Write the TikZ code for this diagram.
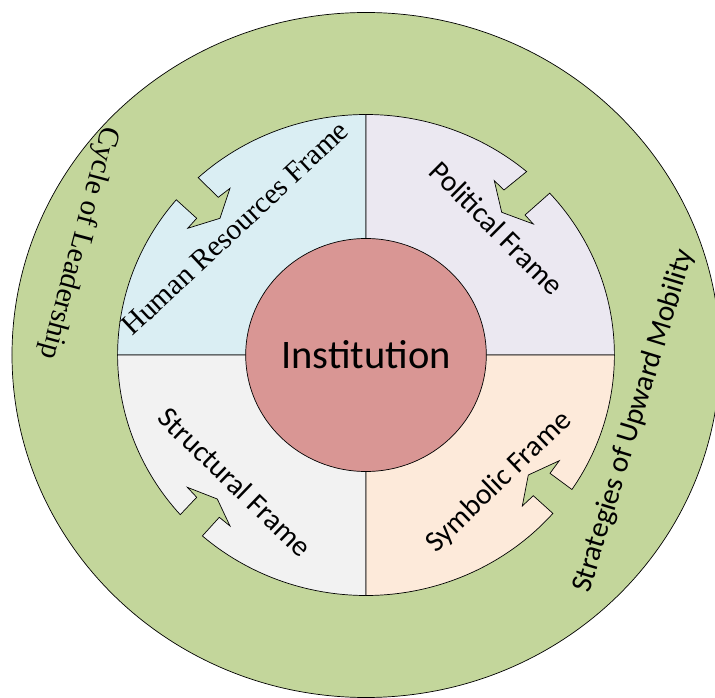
\documentclass[tikz,border=0pt]{standalone}
\usepackage{fontspec}
\setmainfont{Liberation Serif}
\newfontfamily\calibfont{Carlito}
\definecolor{ringgreen}{HTML}{C3D69B}
\definecolor{hrblue}{HTML}{DAEEF3}
\definecolor{pollav}{HTML}{EBE8F1}
\definecolor{strgray}{HTML}{F2F2F2}
\definecolor{sympeach}{HTML}{FDEADA}
\definecolor{instred}{HTML}{D99694}
\begin{document}
\begin{tikzpicture}[x=1pt,y=1pt, line width=0.7pt,
  quad/.style={draw=black, line join=miter},
  lbl/.style={font=\calibfont\fontsize{29.5}{29.5}\selectfont, inner sep=0pt},
  slbl/.style={font=\fontsize{29.5}{29.5}\selectfont, inner sep=0pt},
  rg/.style={x radius=248.4, y radius=240.5}]
\useasboundingbox (-366,-343) rectangle (349,355);
\fill[white] (-366,-343) rectangle (349,355);
\draw[fill=ringgreen] (0,0) ellipse [x radius=354, y radius=342.5];
% Human Resources quadrant
\draw[quad, fill=hrblue] (0,0) -- (90:248.4 and 240.5) arc[start angle=90, end angle=132.5, rg]
  -- (-147.7,157.7) -- (-136,166.7) -- (-146,136.7) -- (-178.3,126.7) -- (-169.3,136.7)
  -- (139.8:248.4 and 240.5) arc[start angle=139.8, end angle=180, rg] -- cycle;
% Political quadrant
\draw[quad, fill=pollav] (0,0) -- (0:248.4 and 240.5) arc[start angle=0, end angle=42.3, rg]
  -- (159,140) -- (167.3,131) -- (135.7,142.7) -- (128.3,174.3) -- (138,165)
  -- (49.7:248.4 and 240.5) arc[start angle=49.7, end angle=90, rg] -- cycle;
% Structural quadrant
\draw[quad, fill=strgray] (0,0) -- (180:248.4 and 240.5) arc[start angle=180, end angle=221.6, rg]
  -- (-169.3,-142.3) -- (-178.7,-132.3) -- (-148.7,-144) -- (-136,-171) -- (-146.7,-162.3)
  -- (228.8:248.4 and 240.5) arc[start angle=228.8, end angle=270, rg] -- cycle;
% Symbolic quadrant
\draw[quad, fill=sympeach] (0,0) -- (270:248.4 and 240.5) arc[start angle=270, end angle=318.8, rg]
  -- (167.3,-140.7) -- (156.3,-151) -- (162.3,-120) -- (193.3,-105.7) -- (184,-118.3)
  -- (326:248.4 and 240.5) arc[start angle=326, end angle=360, rg] -- cycle;
% centre
\draw[fill=instred] (0,0) ellipse [x radius=120.3, y radius=116.5];
\node[font=\calibfont\fontsize{40.5}{40.5}\selectfont, inner sep=0pt] (inst) at (0,0) {Institution};
\node[slbl, rotate=43] (hr) at (-131,127) {Human Resources Frame};
\node[lbl, rotate=-45] (pol) at (131,127) {Political Frame};
\node[lbl, rotate=-44] (str) at (-131,-127) {Structural Frame};
\node[lbl, rotate=44] (sym) at (133,-127) {Symbolic Frame};
\node[slbl, rotate=-105] (cyc) at (-287,112) {Cycle of Leadership};
\node[lbl, rotate=73] (stg) at (268,-66) {Strategies of Upward Mobility};
\end{tikzpicture}
\end{document}
